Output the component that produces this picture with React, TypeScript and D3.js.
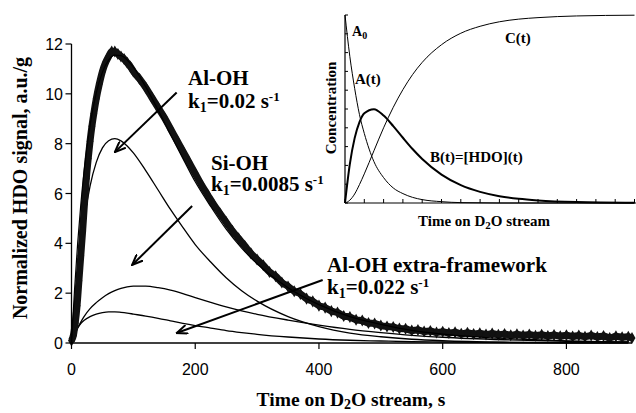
import React from "react";
import * as d3 from "d3";

// ---------- main chart data ----------
const TIME_EXP = [
  0, 3, 6, 9, 12, 15, 18, 21, 24, 27, 30, 33, 36, 40, 45, 50, 55, 60, 65, 70, 75, 80, 85, 90, 95, 100,
  110, 120, 130, 140, 150, 160, 170, 180, 190, 200, 210, 220, 230, 240, 250, 260, 270, 280, 290, 300,
  310, 320, 330, 340, 350, 360, 370, 380, 390, 400, 410, 420, 430, 440, 450, 460, 470, 480, 490, 500,
  510, 520, 530, 540, 550, 560, 570, 580, 590, 600, 610, 620, 630, 640, 650, 660, 670, 680, 690, 700,
  710, 720, 730, 740, 750, 760, 770, 780, 790, 800, 810, 820, 830, 840, 850, 860, 870, 880, 890, 900, 906,
];
const HDO_EXP = [
  0.1, 0.3, 0.8, 1.5, 2.5, 3.5, 4.5, 5.6, 6.6, 7.4, 8.1, 8.7, 9.2, 9.8, 10.4, 10.9, 11.25, 11.5, 11.7, 11.7, 11.6, 11.5, 11.4, 11.25, 11.1, 10.9,
  10.6, 10.25, 9.85, 9.45, 9.05, 8.6, 8.15, 7.7, 7.25, 6.8, 6.35, 5.95, 5.55, 5.2, 4.85, 4.5, 4.2, 3.9, 3.6, 3.35,
  3.12, 2.85, 2.68, 2.43, 2.27, 2.08, 1.97, 1.78, 1.67, 1.5, 1.42, 1.28, 1.22, 1.08, 1.04, 0.93, 0.9, 0.8, 0.78, 0.7,
  0.66, 0.64, 0.58, 0.57, 0.5, 0.52, 0.46, 0.48, 0.42, 0.45, 0.4, 0.43, 0.37, 0.41, 0.36, 0.39, 0.34, 0.38, 0.33, 0.36,
  0.31, 0.35, 0.3, 0.34, 0.29, 0.33, 0.28, 0.32, 0.27, 0.31, 0.26, 0.3, 0.25, 0.3, 0.24, 0.28, 0.2, 0.27, 0.23, 0.25, 0.2,
];

const TIME_FIT = [0, 5, 10, 15, 20, 30, 40, 50, 60, 70, 80, 90, 100, 120, 140, 160, 180, 200, 225, 250, 275, 300, 350, 400, 450, 500, 550, 600, 700, 800, 900];
const AL_OH = [0, 1.52, 2.82, 3.93, 4.87, 6.3, 7.25, 7.83, 8.12, 8.2, 8.11, 7.91, 7.63, 6.92, 6.14, 5.36, 4.64, 3.95, 3.25, 2.62, 2.1, 1.68, 1.06, 0.66, 0.4, 0.25, 0.15, 0.09, 0.03, 0.01, 0.004];
const SI_OH = [0, 0.33, 0.6, 0.84, 1.05, 1.38, 1.62, 1.82, 1.98, 2.1, 2.19, 2.25, 2.28, 2.28, 2.22, 2.12, 1.98, 1.82, 1.63, 1.45, 1.29, 1.15, 0.92, 0.72, 0.55, 0.42, 0.31, 0.23, 0.13, 0.07, 0.04];
const AL_OH_EF = [0, 0.33, 0.6, 0.78, 0.9, 1.06, 1.16, 1.22, 1.25, 1.25, 1.23, 1.2, 1.16, 1.08, 0.99, 0.89, 0.79, 0.7, 0.6, 0.5, 0.42, 0.35, 0.24, 0.16, 0.11, 0.08, 0.05, 0.04, 0.02, 0.01, 0.005];

const X_TICKS = [0, 200, 400, 600, 800];
const Y_TICKS = [0, 2, 4, 6, 8, 10, 12];

// arrows: [fromT, fromV, toT, toV]
const ARROWS = [
  [170, 10.05, 70, 7.66],
  [195, 5.5, 98, 3.13],
  [406, 2.53, 170, 0.4],
];

// ---------- inset data ----------
const INSET_T = [0, 0.25, 0.5, 0.75, 1, 1.5, 2, 2.5, 3, 3.5, 4, 5, 6, 7, 8, 9, 10, 12, 15];
const INSET_A = [1, 0.78, 0.61, 0.47, 0.37, 0.22, 0.135, 0.08, 0.05, 0.03, 0.018, 0.007, 0.002, 0.001, 0, 0, 0, 0, 0];
const INSET_B = [0, 0.207, 0.345, 0.43, 0.477, 0.499, 0.465, 0.409, 0.347, 0.287, 0.234, 0.151, 0.095, 0.059, 0.036, 0.022, 0.0135, 0.005, 0.001];
const INSET_C = [0, 0.015, 0.048, 0.098, 0.155, 0.278, 0.4, 0.509, 0.603, 0.683, 0.748, 0.842, 0.903, 0.94, 0.964, 0.978, 0.986, 0.995, 0.999];
const INSET_X_TICKS = d3.range(0, 16);
const INSET_Y_TICKS = d3.range(0, 11).map((d) => d / 10);

const SERIF = "'Liberation Serif', 'Times New Roman', serif";
const SANS = "'Liberation Sans', Arial, sans-serif";

export default function App() {
  const x = d3.scaleLinear().domain([0, 906]).range([71.5, 632]);
  const y = d3.scaleLinear().domain([0, 12]).range([343, 44]);

  const line = (ts: number[], vs: number[]) =>
    d3
      .line<number>()
      .x((_, i) => x(ts[i]))
      .y((d) => y(d))
      .curve(d3.curveMonotoneX)(vs) || "";

  const fit = AL_OH.map((d, i) => d + SI_OH[i] + AL_OH_EF[i]);
  const diamond = d3.symbol(d3.symbolDiamond, 42)() || "";

  const ix = d3.scaleLinear().domain([0, 15]).range([345, 634.5]);
  const iy = d3.scaleLinear().domain([0, 1]).range([203, 15]);
  const iline = (vs: number[]) =>
    d3
      .line<number>()
      .x((_, i) => ix(INSET_T[i]))
      .y((d) => iy(d))
      .curve(d3.curveMonotoneX)(vs) || "";

  const annFont = { fontFamily: SERIF, fontWeight: "bold" as const, fontSize: 21 };

  return (
    <svg
      width={636}
      height={413}
      style={{ position: "absolute", left: 0, top: 0, background: "#fff" }}
    >
      <defs>
        <marker
          id="arr"
          viewBox="0 0 12 10"
          refX="11"
          refY="5"
          markerWidth="12"
          markerHeight="10"
          markerUnits="userSpaceOnUse"
          orient="auto"
        >
          <path d="M0,0.5 L11,5 L0,9.5" fill="none" stroke="#000" strokeWidth="2" />
        </marker>
      </defs>
      <rect x={0} y={0} width={636} height={413} fill="#fff" />

      {/* component curves */}
      <path d={line(TIME_FIT, AL_OH)} fill="none" stroke="#000" strokeWidth={1.3} />
      <path d={line(TIME_FIT, SI_OH)} fill="none" stroke="#000" strokeWidth={1.3} />
      <path d={line(TIME_FIT, AL_OH_EF)} fill="none" stroke="#000" strokeWidth={1.3} />

      {/* experimental data */}
      <path d={line(TIME_EXP, HDO_EXP)} fill="none" stroke="#111" strokeWidth={7} strokeLinejoin="round" />
      {HDO_EXP.map((v, i) => (
        <path key={i} d={diamond} transform={`translate(${x(TIME_EXP[i])},${y(v)})`} fill="#111" />
      ))}
      {/* fitted sum */}
      <path d={line(TIME_FIT, fit)} fill="none" stroke="#000" strokeWidth={1.2} />

      {/* axes */}
      <line x1={x(0)} x2={632} y1={y(0)} y2={y(0)} stroke="#000" strokeWidth={1.3} />
      <line x1={x(0)} x2={x(0)} y1={y(0)} y2={y(12)} stroke="#000" strokeWidth={1.3} />
      {X_TICKS.map((t) => (
        <g key={t}>
          <line x1={x(t)} x2={x(t)} y1={y(0)} y2={y(0) + 6} stroke="#000" strokeWidth={1.2} />
          <text x={x(t)} y={375} textAnchor="middle" fontFamily={SANS} fontSize={16}>
            {t}
          </text>
        </g>
      ))}
      {Y_TICKS.map((t) => (
        <g key={t}>
          <line x1={x(0) - 6} x2={x(0)} y1={y(t)} y2={y(t)} stroke="#000" strokeWidth={1.2} />
          <text x={63} y={y(t) + 6} textAnchor="end" fontFamily={SANS} fontSize={16}>
            {t}
          </text>
        </g>
      ))}
      <text
        transform="translate(27,188) rotate(-90)"
        textAnchor="middle"
        fontFamily={SERIF}
        fontWeight="bold"
        fontSize={20}
      >
        Normalized HDO signal, a.u./g
      </text>
      <text x={351} y={406} textAnchor="middle" fontFamily={SERIF} fontWeight="bold" fontSize={19.5}>
        Time on D<tspan fontSize={14} dy={3}>2</tspan>
        <tspan dy={-3}>O stream, s</tspan>
      </text>

      {/* arrows */}
      {ARROWS.map((a, i) => (
        <line
          key={i}
          x1={x(a[0])}
          y1={y(a[1])}
          x2={x(a[2])}
          y2={y(a[3])}
          stroke="#000"
          strokeWidth={2}
          markerEnd="url(#arr)"
        />
      ))}

      {/* annotations */}
      <text x={188} y={85} {...annFont}>Al-OH</text>
      <text x={188} y={108} {...annFont}>
        k<tspan fontSize={14} dy={4}>1</tspan>
        <tspan dy={-4}>=0.02 s</tspan>
        <tspan fontSize={13} dy={-7}>-1</tspan>
      </text>
      <text x={211} y={170} {...annFont}>Si-OH</text>
      <text x={211} y={191} {...annFont}>
        k<tspan fontSize={14} dy={4}>1</tspan>
        <tspan dy={-4}>=0.0085 s</tspan>
        <tspan fontSize={13} dy={-7}>-1</tspan>
      </text>
      <text x={327} y={272} {...annFont}>Al-OH extra-framework</text>
      <text x={327} y={294} {...annFont}>
        k<tspan fontSize={14} dy={4}>1</tspan>
        <tspan dy={-4}>=0.022 s</tspan>
        <tspan fontSize={13} dy={-7}>-1</tspan>
      </text>

      {/* inset */}
      <g>
        <path d={iline(INSET_A)} fill="none" stroke="#000" strokeWidth={1} />
        <path d={iline(INSET_C)} fill="none" stroke="#000" strokeWidth={1} />
        <path d={iline(INSET_B)} fill="none" stroke="#000" strokeWidth={2} />
        <line x1={ix(0)} x2={636} y1={iy(0)} y2={iy(0)} stroke="#000" strokeWidth={1.2} />
        <line x1={ix(0)} x2={ix(0)} y1={iy(0)} y2={iy(1)} stroke="#000" strokeWidth={1.2} />
        {INSET_X_TICKS.map((t) => (
          <line key={t} x1={ix(t)} x2={ix(t)} y1={iy(0)} y2={iy(0) - 4} stroke="#000" strokeWidth={1} />
        ))}
        {INSET_Y_TICKS.map((t) => (
          <line key={t} x1={ix(0)} x2={ix(0) + 3} y1={iy(t)} y2={iy(t)} stroke="#000" strokeWidth={1} />
        ))}
        <text
          transform="translate(336,108) rotate(-90)"
          textAnchor="middle"
          fontFamily={SERIF}
          fontWeight="bold"
          fontSize={15}
        >
          Concentration
        </text>
        <text x={484} y={226} textAnchor="middle" fontFamily={SERIF} fontWeight="bold" fontSize={15}>
          Time on D<tspan fontSize={11} dy={3}>2</tspan>
          <tspan dy={-3}>O stream</tspan>
        </text>
        <text x={352} y={36} fontFamily={SERIF} fontWeight="bold" fontSize={14}>
          A<tspan fontSize={10} dy={3}>0</tspan>
        </text>
        <text x={355} y={84} fontFamily={SERIF} fontWeight="bold" fontSize={15}>A(t)</text>
        <text x={430} y={162} fontFamily={SERIF} fontWeight="bold" fontSize={15}>B(t)=[HDO](t)</text>
        <text x={505} y={43} fontFamily={SERIF} fontWeight="bold" fontSize={15}>C(t)</text>
      </g>
    </svg>
  );
}
